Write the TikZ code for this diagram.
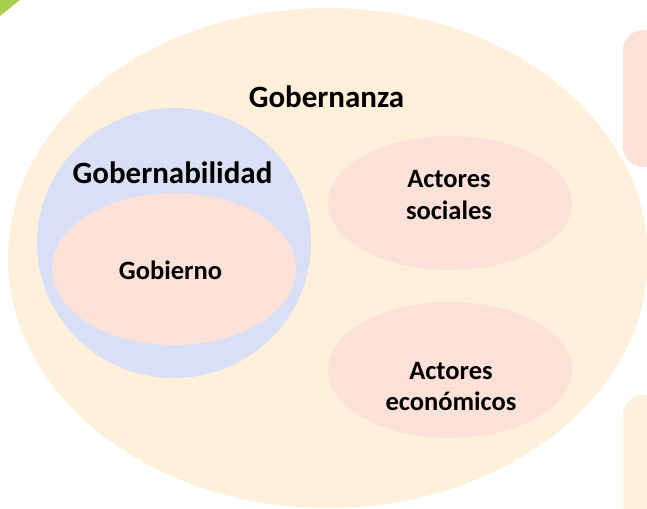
\documentclass[tikz,border=0pt]{standalone}
\usepackage{fontspec}
\setmainfont{Carlito}
\usetikzlibrary{shapes.geometric}
\definecolor{bigfill}{HTML}{FFF0DB}
\definecolor{bluefill}{HTML}{D9DFF4}
\definecolor{pinkfill}{HTML}{FCE1D8}
\definecolor{greenfill}{HTML}{A8CF4E}
\tikzset{
  blob/.style={ellipse, draw=none, inner sep=0pt},
  bigtxt/.style={font=\fontsize{31}{36}\selectfont\bfseries, anchor=base, inner sep=0pt},
  smalltxt/.style={font=\fontsize{26.5}{31}\selectfont\bfseries, anchor=base, inner sep=0pt},
  sidebox/.style={rounded corners=20pt, draw=none}
}
\begin{document}
\begin{tikzpicture}[x=1pt,y=-1pt]
\useasboundingbox (0,0) rectangle (647,508);
\clip (0,0) rectangle (647,508);
\fill[greenfill] (0,0) -- (20,0) -- (0,16) -- cycle;
\node[blob, fill=bigfill, minimum width=640, minimum height=500] (gza) at (328,258) {};
\fill[pinkfill, sidebox] (623,30) rectangle (700,167);
\fill[bigfill, sidebox] (623,395) rectangle (700,560);
\node[blob, fill=bluefill, minimum width=274, minimum height=270] (gbd) at (174,243) {};
\node[blob, fill=pinkfill, minimum width=244, minimum height=152] (gob) at (174,269) {};
\node[blob, fill=pinkfill, minimum width=244, minimum height=134] (soc) at (450,203) {};
\node[blob, fill=pinkfill, minimum width=244, minimum height=136] (eco) at (450,370) {};
\node[bigtxt] (tgza) at (326.5,107) {Gobernanza};
\node[bigtxt] (tgbd) at (172.5,183) {Gobernabilidad};
\node[smalltxt] (tgob) at (170.5,279) {Gobierno};
\node[smalltxt] (tsoc1) at (449,187) {Actores};
\node[smalltxt] (tsoc2) at (449,219) {sociales};
\node[smalltxt] (teco1) at (451,379) {Actores};
\node[smalltxt] (teco2) at (451,410) {económicos};
\end{tikzpicture}
\end{document}
